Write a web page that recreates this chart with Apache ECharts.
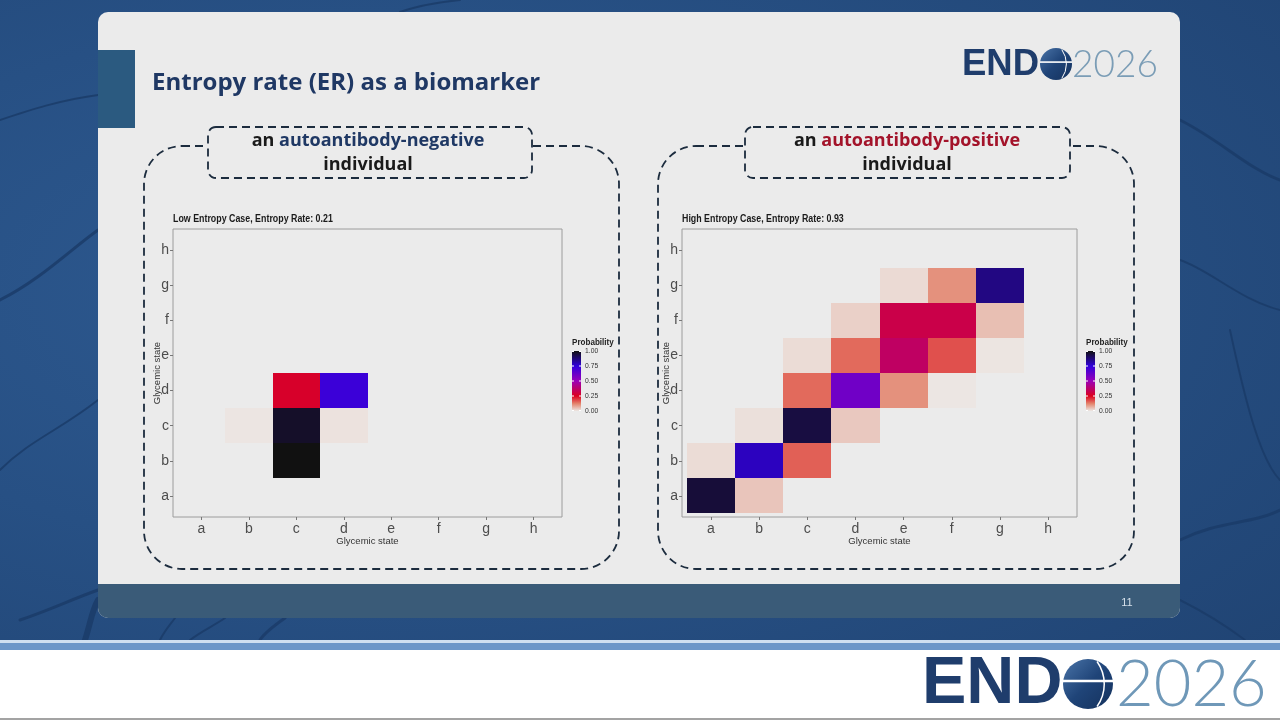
<!DOCTYPE html>
<html>
<head>
<meta charset="utf-8">
<script src="https://cdn.jsdelivr.net/npm/echarts@6.0.0/dist/echarts.min.js"></script>
<style>
  html,body{margin:0;padding:0;width:1280px;height:720px;overflow:hidden;}
  body{background:radial-gradient(ellipse at 30% 40%, #2e5a91 0%, #275084 45%, #1f4271 100%);position:relative;font-family:'Liberation Sans',Arial,sans-serif;}
  #veins{position:absolute;left:0;top:0;width:1280px;height:650px;}
  #panel{position:absolute;left:98px;top:12px;width:1082px;height:606px;background:#ebebeb;border-radius:10px;overflow:hidden;}
  #foot{position:absolute;left:0;bottom:0;width:100%;height:34px;background:#3a5b78;}
  #accent{position:absolute;left:0;top:38px;width:37px;height:78px;background:#2b5a80;}
  #band{position:absolute;left:0;top:640px;width:1280px;height:10px;background:#6c97c8;border-top:3px solid #cfe0f0;box-sizing:border-box;}
  #white{position:absolute;left:0;top:650px;width:1280px;height:68px;background:#ffffff;}
  #gline{position:absolute;left:0;top:718px;width:1280px;height:2px;background:#a3a3a3;}
  #chart{position:absolute;left:0;top:0;width:1280px;height:720px;}
</style>
</head>
<body>
<svg id="veins" viewBox="0 0 1280 650">
  <g fill="none" stroke="#1a3b68" stroke-linecap="round" opacity="0.8">
    <path d="M0 300 C 40 280, 70 250, 98 230" stroke-width="3"/>
    <path d="M0 470 C 30 440, 60 430, 98 400" stroke-width="2"/>
    <path d="M20 620 C 50 610, 70 600, 98 590" stroke-width="3"/>
    <path d="M85 640 C 90 625, 92 610, 98 600" stroke-width="6"/>
    <path d="M160 640 C 165 630, 170 625, 175 618" stroke-width="2"/>
    <path d="M190 640 C 200 632, 215 625, 225 618" stroke-width="2"/>
    <path d="M260 640 C 265 632, 275 625, 285 618" stroke-width="3"/>
    <path d="M1180 120 C 1220 140, 1250 170, 1280 180" stroke-width="3"/>
    <path d="M1180 260 C 1210 270, 1240 300, 1280 310" stroke-width="2"/>
    <path d="M1180 540 C 1220 520, 1250 525, 1280 510" stroke-width="3"/>
    <path d="M1180 600 C 1200 610, 1225 625, 1245 640" stroke-width="2"/>
    <path d="M1230 330 C 1245 400, 1260 460, 1280 480" stroke-width="2"/>
    <path d="M400 12 C 420 5, 440 2, 460 0" stroke-width="2"/>
    <path d="M0 120 C 30 110, 60 100, 98 95" stroke-width="2"/>
  </g>
</svg>
<div id="panel"><div id="accent"></div><div id="foot"></div></div>
<div id="band"></div>
<div id="white"></div>
<div id="gline"></div>
<div id="chart"></div>
<script>
// ---------------- data ----------------
const states = ['a','b','c','d','e','f','g','h'];

// Low entropy case (ER 0.21): from-state (row, y) -> to-state (column, x)
const lowFrom = ['b','c','c','c','d','d'];
const lowTo   = ['c','b','c','d','c','d'];
const lowProb = [1.00, 0.002, 0.97, 0.006, 0.27, 0.725];

// High entropy case (ER 0.93)
const highFrom = ['a','a','b','b','b','c','c','c','d','d','d','d','e','e','e','e','e','f','f','f','f','g','g','g'];
const highTo   = ['a','b','a','b','c','b','c','d','c','d','e','f','c','d','e','f','g','d','e','f','g','e','f','g'];
const highProb = [0.95,0.042,0.014,0.785,0.158,0.009,0.94,0.038,0.148,0.6,0.106,0.001,0.014,0.148,0.36,0.173,0.003,0.029,0.32,0.32,0.05,0.016,0.106,0.86];

const legendTicks = ['1.00','0.75','0.50','0.25','0.00'];
// evenly spaced colour stops for probability 0, 0.125, ..., 1
const scaleColors = ['#ece7e4','#e3826a','#dc001e','#bb006b','#9a00b8','#6500ca','#3000dc','#200876','#111111'];

const lowTitle = 'Low Entropy Case, Entropy Rate: 0.21';
const highTitle = 'High Entropy Case, Entropy Rate: 0.93';
const axisName = 'Glycemic state';

// ---------------- helpers ----------------
function toTriples(from, to, prob){
  return prob.map((p,i)=>[states.indexOf(to[i]), states.indexOf(from[i]), p]);
}
function renderTile(params, api){
  const x = api.value(0), y = api.value(1);
  const p0 = api.coord([x-0.5, y+0.5]);
  const p1 = api.coord([x+0.5, y-0.5]);
  const x0 = Math.round(p0[0]), y0 = Math.round(p0[1]);
  const x1 = Math.round(p1[0]), y1 = Math.round(p1[1]);
  return {type:'rect', shape:{x:x0, y:y0, width:x1-x0, height:y1-y0}, style:{fill: api.visual('color')}};
}
const chartFont = "'Liberation Sans',Arial,sans-serif";
const idx = states.map((s,i)=>i);
function axis(gridIndex, isX){
  return {
    type:'value', gridIndex, min:-0.6, max:7.6,
    axisLine:{show:false, onZero:false}, splitLine:{show:false},
    axisTick:{show:true, customValues:idx, length:3, lineStyle:{color:'#777', width:1}},
    axisLabel:{customValues:idx, formatter:v=>states[Math.round(v)], color:'#4d4d4d', fontSize:14, fontFamily:chartFont, margin: isX?5:4},
    name:axisName, nameLocation:'middle', nameGap: isX?19:11, nameMoveOverlap:false,
    nameTextStyle:{color:'#333', fontSize:9.5, fontFamily:chartFont}
  };
}

const chart = echarts.init(document.getElementById('chart'), null, {renderer:'canvas'});

function legend(x){
  const top = 351, h = 60, w = 9;
  const els = [];
  els.push({type:'text', x:x, y:342, scaleX:0.85, style:{text:'Probability', font:"bold 9.5px "+chartFont, fill:'#222', textVerticalAlign:'middle'}});
  const n = scaleColors.length;
  const stops = scaleColors.map((c,i)=>({offset:1-i/(n-1), color:c})).reverse();
  els.push({type:'rect', shape:{x:x, y:top, width:w, height:h}, style:{fill:new echarts.graphic.LinearGradient(0,0,0,1, stops)}});
  legendTicks.forEach((t,i)=>{
    const yy = top + i*h/(legendTicks.length-1);
    const yi = Math.min(Math.max(yy, top+0.5), top+h-0.5);
    els.push({type:'line', shape:{x1:x, y1:yi, x2:x+2, y2:yi}, style:{stroke:'#fff', lineWidth:1}});
    els.push({type:'line', shape:{x1:x+w-2, y1:yi, x2:x+w, y2:yi}, style:{stroke:'#fff', lineWidth:1}});
    els.push({type:'text', x:x+13, y:yy, scaleX:0.9, style:{text:t, font:"7.5px "+chartFont, fill:'#333', textVerticalAlign:'middle'}});
  });
  return els;
}

function dashedBox(x, y, w, h, r, fill){
  return {type:'rect', shape:{x, y, width:w, height:h, r}, style:{fill: fill||null, stroke:'#1c2c3e', lineWidth:1.8, lineDash:[8,5]}};
}
function labelText(cx, word, color){
  return {type:'text', x:cx, y:153, style:{
    text:'{k|an }{c|'+word+'}\n{k|individual}',
    textAlign:'center', textVerticalAlign:'middle',
    rich:{
      k:{font:"bold 18px 'Open Sans', Lato, sans-serif", fill:'#1a1a1a', lineHeight:24},
      c:{font:"bold 18px 'Open Sans', Lato, sans-serif", fill:color, lineHeight:24}
    }
  }};
}
function globe(cx, cy, r){
  return [
    {type:'circle', shape:{cx, cy, r}, style:{fill:new echarts.graphic.LinearGradient(0,0,1,1,[{offset:0,color:'#4a74a8'},{offset:0.5,color:'#1f4478'},{offset:1,color:'#14315c'}])}},
    {type:'line', shape:{x1:cx-r, y1:cy-r*0.12, x2:cx+r, y2:cy-r*0.12}, style:{stroke:'#ffffff', lineWidth:Math.max(1.5,r*0.1)}},
    {type:'arc', shape:{cx:cx-r*0.9, cy:cy, r:r*1.55, startAngle:-0.62, endAngle:0.62}, style:{stroke:'#ffffff', lineWidth:Math.max(1,r*0.06), fill:null}}
  ];
}

const graphics = [
  // title
  {type:'text', x:152, y:83, style:{text:'Entropy rate (ER) as a biomarker', font:"bold 24px 'Open Sans', Lato, sans-serif", fill:'#1f3864', textVerticalAlign:'middle'}},
  // top logo
  {type:'text', x:962, y:65, style:{text:'END', font:"bold 36.5px 'Liberation Sans', Arial, sans-serif", fill:'#1f3d6c', textVerticalAlign:'middle'}},
  ...globe(1056, 64, 16),
  {type:'text', x:1072, y:65, style:{text:'2026', font:"300 37px Lato, 'Liberation Sans', sans-serif", fill:'#7b9db6', textVerticalAlign:'middle'}},
  // bottom logo
  {type:'text', x:922, y:685, style:{text:'END', font:"bold 66.5px 'Liberation Sans', Arial, sans-serif", fill:'#1f3d6c', textVerticalAlign:'middle'}},
  ...globe(1088, 684, 25),
  {type:'text', x:1116, y:685, style:{text:'2026', font:"300 65px Lato, 'Liberation Sans', sans-serif", fill:'#6f98b8', textVerticalAlign:'middle'}},
  // page number
  {type:'text', x:1127, y:603, style:{text:'11', font:"11px 'Liberation Sans', Arial, sans-serif", fill:'#d5e0ea', textAlign:'center', textVerticalAlign:'middle'}},
  // dashed frames
  dashedBox(144, 146, 475, 423, 38),
  dashedBox(208, 127, 324, 51, 8, '#ebebeb'),
  labelText(368, 'autoantibody-negative', '#1f3864'),
  dashedBox(658, 146, 476, 423, 38),
  dashedBox(745, 127, 325, 51, 8, '#ebebeb'),
  labelText(907, 'autoantibody-positive', '#a3132a'),
  // chart titles
  {type:'text', x:173, y:219, scaleX:0.885, style:{text:lowTitle, font:"bold 10px "+chartFont, fill:'#1a1a1a', textVerticalAlign:'middle'}},
  {type:'text', x:682, y:219, scaleX:0.885, style:{text:highTitle, font:"bold 10px "+chartFont, fill:'#1a1a1a', textVerticalAlign:'middle'}},
  ...legend(572),
  ...legend(1086)
];

chart.setOption({
  backgroundColor:'transparent',
  animation:false,
  grid:[
    {left:173, top:229, width:389, height:288, show:true, borderColor:'#9c9c9c', borderWidth:1, backgroundColor:'transparent'},
    {left:682, top:229, width:395, height:288, show:true, borderColor:'#9c9c9c', borderWidth:1, backgroundColor:'transparent'}
  ],
  xAxis:[axis(0,true), axis(1,true)],
  yAxis:[axis(0,false), axis(1,false)],
  visualMap:{type:'continuous', show:false, min:0, max:1, dimension:2, seriesIndex:[0,1], inRange:{color:scaleColors}},
  series:[
    {type:'custom', xAxisIndex:0, yAxisIndex:0, renderItem:renderTile, data:toTriples(lowFrom, lowTo, lowProb), encode:{x:0, y:1}},
    {type:'custom', xAxisIndex:1, yAxisIndex:1, renderItem:renderTile, data:toTriples(highFrom, highTo, highProb), encode:{x:0, y:1}}
  ],
  graphic:{elements:graphics}
});
</script>
</body>
</html>
